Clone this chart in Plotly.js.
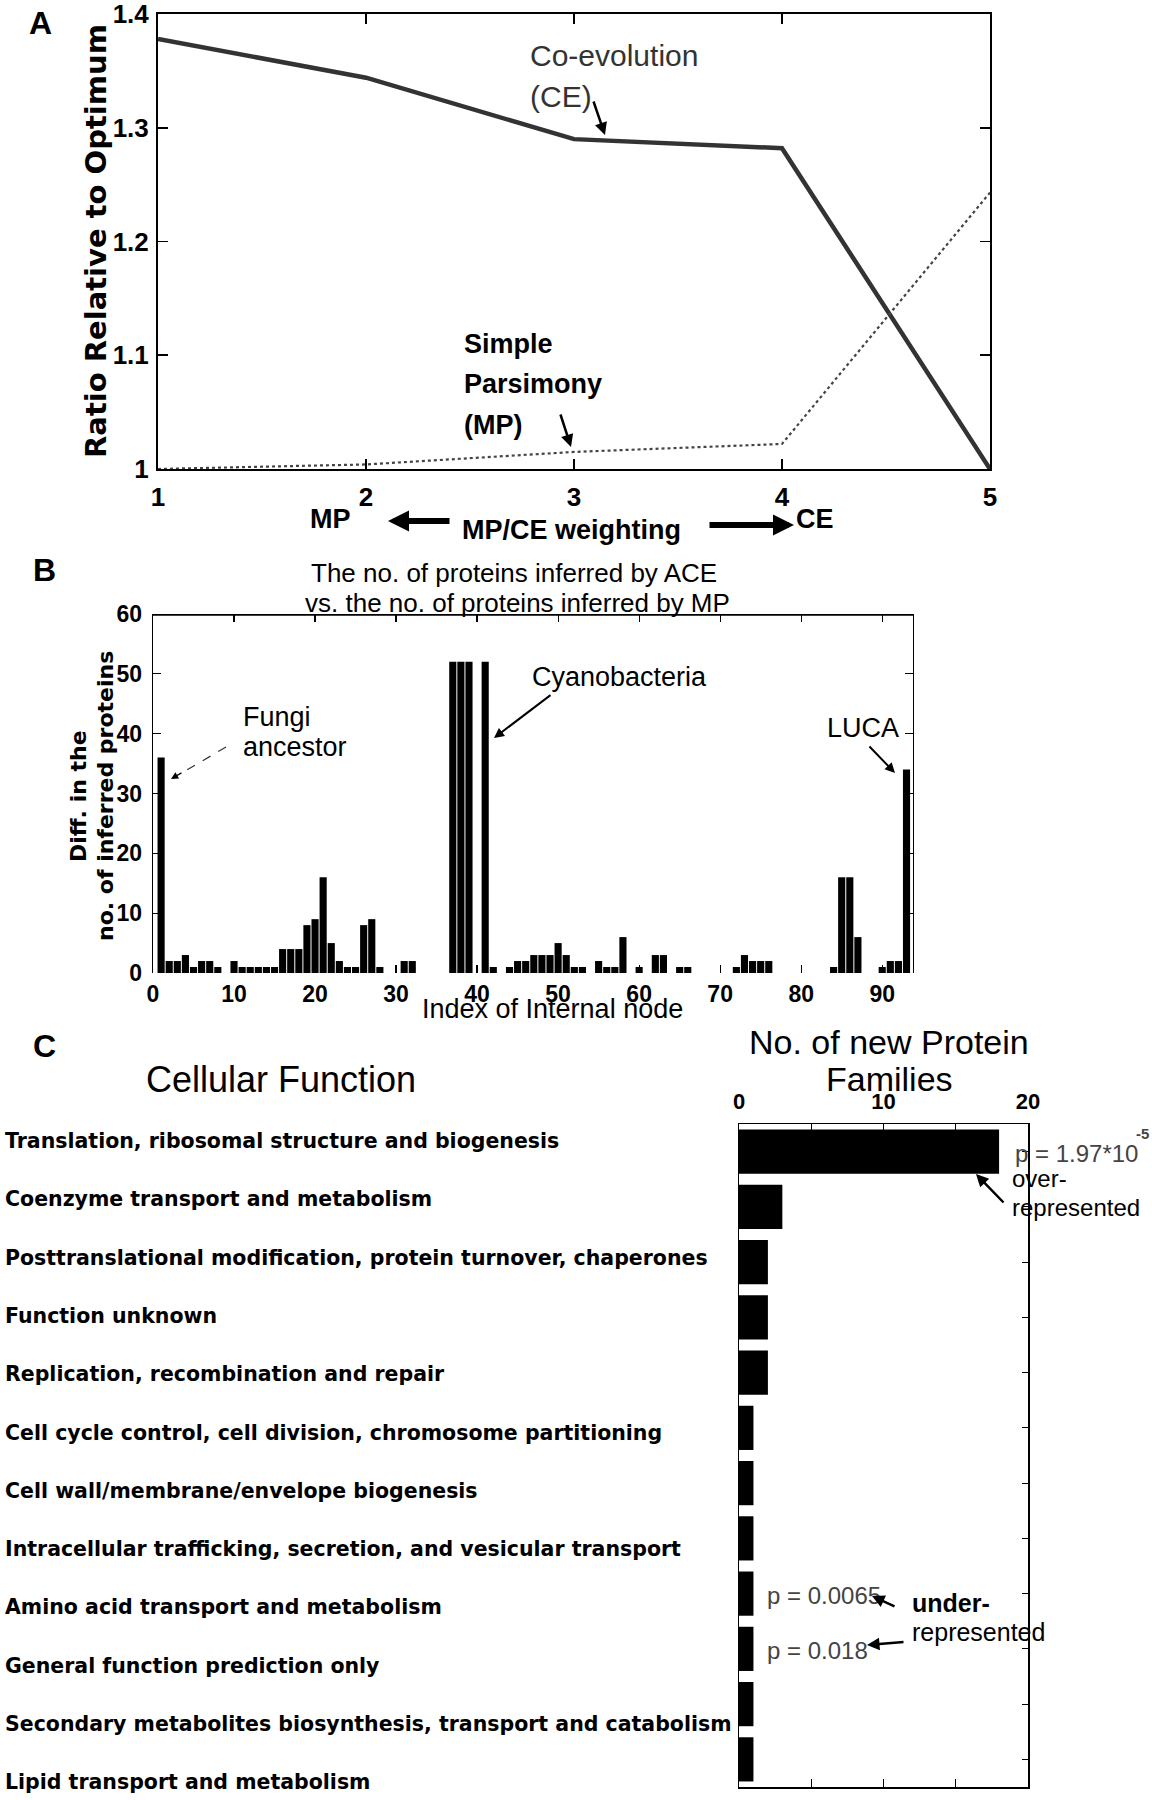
<!DOCTYPE html>
<html>
<head>
<meta charset="utf-8">
<script src="https://cdn.plot.ly/plotly-3.0.1.min.js"></script>
<style>html,body{margin:0;padding:0;background:#fff;}#chart{width:1152px;height:1800px;}</style>
</head>
<body>
<div id="chart"></div>
<script>
// ---------- Panel A data ----------
const weightingSteps = [1, 2, 3, 4, 5];
const ceRatio = [1.378, 1.344, 1.290, 1.282, 1.000];
const mpRatio = [1.000, 1.004, 1.015, 1.022, 1.243];
const ratioTicks = [1, 1.1, 1.2, 1.3, 1.4];
const ratioTickText = ['1', '1.1', '1.2', '1.3', '1.4'];

// ---------- Panel B data ----------
const nodeIndex = [1, 2, 3, 4, 5, 6, 7, 8, 10, 11, 12, 13, 14, 15, 16, 17, 18, 19, 20, 21, 22, 23, 24, 25, 26, 27, 28,
  31, 32, 37, 38, 39, 41, 42, 44, 45, 46, 47, 48, 49, 50, 51, 52, 53, 55, 56, 57, 58, 60, 62, 63, 65, 66,
  72, 73, 74, 75, 76, 84, 85, 86, 87, 90, 91, 92, 93];
const proteinDiff = [36, 2, 2, 3, 1, 2, 2, 1, 2, 1, 1, 1, 1, 1, 4, 4, 4, 8, 9, 16, 5, 2, 1, 1, 8, 9, 1,
  2, 2, 52, 52, 52, 52, 1, 1, 2, 2, 3, 3, 3, 5, 3, 1, 1, 2, 1, 1, 6, 1, 3, 3, 1, 1,
  1, 3, 2, 2, 2, 1, 16, 16, 6, 1, 2, 2, 34];
const nodeTicks = [0, 10, 20, 30, 40, 50, 60, 70, 80, 90];
const diffTicks = [0, 10, 20, 30, 40, 50, 60];

// ---------- Panel C data ----------
const cellularFunctions = [
  'Translation, ribosomal structure and biogenesis',
  'Coenzyme transport and metabolism',
  'Posttranslational modification, protein turnover, chaperones',
  'Function unknown',
  'Replication, recombination and repair',
  'Cell cycle control, cell division, chromosome partitioning',
  'Cell wall/membrane/envelope biogenesis',
  'Intracellular trafficking, secretion, and vesicular transport',
  'Amino acid transport and metabolism',
  'General function prediction only',
  'Secondary metabolites biosynthesis, transport and catabolism',
  'Lipid transport and metabolism'
];
const newFamilies = [18, 3, 2, 2, 2, 1, 1, 1, 1, 1, 1, 1];
const familyTicks = [0, 5, 10, 15, 20];
const familyTickText = ['0', '', '10', '', '20'];

// ---------- helpers ----------
const W = 1152, H = 1800;
const SANS = '"Liberation Sans", Arial, sans-serif';
const WIDE = '"DejaVu Sans", Verdana, sans-serif';
const f = (family, size, weight, color) => ({family, size, weight: weight || 400, color: color || '#000'});

function label(text, x, y, font, extra) {
  return Object.assign({x: x / W, y: 1 - y / H, xref: 'paper', yref: 'paper', text: text,
    showarrow: false, font: font, xanchor: 'center', yanchor: 'middle'}, extra || {});
}
function arrow(hx, hy, tx, ty, w, head, size) {
  return {x: hx / W, y: 1 - hy / H, xref: 'paper', yref: 'paper', ax: tx - hx, ay: ty - hy,
    axref: 'pixel', ayref: 'pixel', text: '', showarrow: true, arrowhead: head, arrowsize: size,
    arrowwidth: w, arrowcolor: '#000'};
}

const traces = [
  {x: weightingSteps, y: ceRatio, type: 'scatter', mode: 'lines', xaxis: 'x', yaxis: 'y',
   line: {color: '#333', width: 4.5}, hoverinfo: 'skip'},
  {x: weightingSteps, y: mpRatio, type: 'scatter', mode: 'lines', xaxis: 'x', yaxis: 'y',
   line: {color: '#444', width: 2.2, dash: 'dot'}, hoverinfo: 'skip'},
  {x: nodeIndex, y: proteinDiff, type: 'bar', xaxis: 'x2', yaxis: 'y2', width: 0.88,
   marker: {color: '#000', line: {width: 0}}, hoverinfo: 'skip'},
  {x: newFamilies, y: cellularFunctions, type: 'bar', orientation: 'h', xaxis: 'x3', yaxis: 'y3', width: 0.8,
   marker: {color: '#000', line: {width: 0}}, hoverinfo: 'skip'}
];

const axisBase = {showgrid: false, zeroline: false, ticks: 'inside', tickcolor: '#000', linecolor: '#000',
  fixedrange: true, ticklabeloverflow: 'allow'};

const annotations = [
  // Panel letters
  label('A', 40, 23, f(SANS, 32, 700)),
  label('B', 44, 570, f(SANS, 32, 700)),
  label('C', 44, 1046, f(SANS, 32, 700)),
  // Panel A
  label('Ratio Relative to Optimum', 96, 241, f(WIDE, 29, 700), {textangle: -90}),
  label('Co-evolution', 528, 55, f(SANS, 30, 400, '#333'), {xanchor: 'left'}),
  label('(CE)', 528, 96, f(SANS, 30, 400, '#333'), {xanchor: 'left'}),
  arrow(605, 135, 593, 100, 2.5, 2, 1),
  label('Simple', 462, 344, f(SANS, 27, 700), {xanchor: 'left'}),
  label('Parsimony', 462, 384, f(SANS, 27, 700), {xanchor: 'left'}),
  label('(MP)', 462, 425, f(SANS, 27, 700), {xanchor: 'left'}),
  arrow(571, 447, 560, 413, 2.5, 2, 1),
  label('MP', 330, 519, f(SANS, 27, 700)),
  label('MP/CE weighting', 571, 530, f(SANS, 27, 700)),
  label('CE', 815, 519, f(SANS, 27, 700)),
  arrow(388, 521, 451, 521, 6, 2, 0.7),
  arrow(794, 525, 708, 525, 6, 2, 0.7),
  // Panel B
  label('The no. of proteins inferred by ACE', 514, 573, f(SANS, 26)),
  label('vs. the no. of proteins inferred by MP', 517, 603, f(SANS, 26)),
  label('Diff. in the', 78, 796, f(WIDE, 22, 700), {textangle: -90}),
  label('no. of inferred proteins', 105, 796, f(WIDE, 22, 700), {textangle: -90}),
  label('Index of Internal node', 552, 1009, f(SANS, 27)),
  label('Fungi', 241, 717, f(SANS, 27), {xanchor: 'left'}),
  label('ancestor', 241, 747, f(SANS, 27), {xanchor: 'left'}),
  arrow(171, 779, 183, 772, 1.2, 2, 1.2),
  label('Cyanobacteria', 619, 677, f(SANS, 27)),
  arrow(494, 738, 552, 694, 2, 2, 1),
  label('LUCA', 863, 728, f(SANS, 27)),
  arrow(895, 773, 868, 745, 2, 2, 1),
  // Panel C
  label('Cellular Function', 281, 1079, f(SANS, 36)),
  label('No. of new Protein', 889, 1042, f(SANS, 34)),
  label('Families', 889, 1079, f(SANS, 34)),
  label('p = 1.97*10', 1013, 1153, f(SANS, 24, 400, '#444'), {xanchor: 'left'}),
  label('-5', 1151, 1133, f(SANS, 15, 700, '#444'), {xanchor: 'right'}),
  label('over-', 1010, 1178, f(SANS, 24), {xanchor: 'left'}),
  label('represented', 1010, 1207, f(SANS, 24), {xanchor: 'left'}),
  arrow(976, 1174, 1005, 1204, 2.5, 2, 1),
  label('p = 0.0065', 765, 1595, f(SANS, 24, 400, '#444'), {xanchor: 'left'}),
  arrow(872, 1596, 896, 1607, 2.5, 2, 1),
  label('under-', 910, 1603, f(SANS, 25, 700), {xanchor: 'left'}),
  label('represented', 910, 1632, f(SANS, 25), {xanchor: 'left'}),
  label('p = 0.018', 765, 1650, f(SANS, 24, 400, '#444'), {xanchor: 'left'}),
  arrow(867, 1645, 905, 1642, 2.5, 2, 1)
];
cellularFunctions.forEach((name, i) => {
  annotations.push(label(name, 3, 1141 + 58.3 * i, f(WIDE, 20.5, 700), {xanchor: 'left'}));
});

const layout = {
  width: W, height: H, autosize: false,
  margin: {l: 0, r: 0, t: 0, b: 0, pad: 0},
  paper_bgcolor: '#fff', plot_bgcolor: '#fff',
  showlegend: false,
  xaxis: Object.assign({}, axisBase, {domain: [158 / W, 990 / W], anchor: 'y', range: [0.9999, 5.0001],
    tickvals: weightingSteps, ticklen: 10, tickwidth: 1.5, showline: true, linewidth: 2, mirror: 'ticks',
    tickfont: f(SANS, 26, 700), ticklabelstandoff: 4}),
  yaxis: Object.assign({}, axisBase, {domain: [1 - 469 / H, 1 - 14 / H], anchor: 'x', range: [0.99999, 1.40001],
    tickvals: ratioTicks, ticktext: ratioTickText, ticklen: 10, tickwidth: 1.5, showline: true, linewidth: 2,
    mirror: 'ticks', tickfont: f(SANS, 26, 700), ticklabelstandoff: 2}),
  xaxis2: Object.assign({}, axisBase, {domain: [153 / W, 913 / W], anchor: 'y2', range: [0, 93.8],
    tickvals: nodeTicks, ticklen: 8, tickwidth: 1.2, showline: true, linecolor: 'rgba(0,0,0,0)', mirror: 'ticks',
    layer: 'below traces', tickfont: f(SANS, 23, 700), ticklabelstandoff: 0}),
  yaxis2: Object.assign({}, axisBase, {domain: [1 - 973 / H, 1 - 614 / H], anchor: 'x2', range: [0, 60.001],
    tickvals: diffTicks, ticklen: 8, tickwidth: 1.2, showline: true, linewidth: 1.3, mirror: 'ticks',
    layer: 'below traces', tickfont: f(SANS, 23, 700), ticklabelstandoff: 5}),
  xaxis3: Object.assign({}, axisBase, {domain: [739 / W, 1028 / W], anchor: 'y3', side: 'top', range: [0, 20.001],
    tickvals: familyTicks, ticktext: familyTickText, ticklen: 8, tickwidth: 1.2, showline: true, linewidth: 1.5,
    mirror: 'ticks', tickfont: f(SANS, 22, 700), ticklabelstandoff: 5}),
  yaxis3: Object.assign({}, axisBase, {domain: [1 - 1787 / H, 1 - 1124 / H], anchor: 'x3', type: 'category',
    categoryorder: 'array', categoryarray: cellularFunctions, autorange: 'reversed', showticklabels: false,
    ticklen: 6, tickwidth: 1.2, showline: true, linewidth: 1.5, mirror: 'ticks'}),
  shapes: [
    {type: 'line', xref: 'x2 domain', yref: 'y2', x0: 0, x1: 1, y0: 60, y1: 60, line: {color: '#000', width: 3.5}},
    {type: 'line', xref: 'paper', yref: 'paper', x0: 226 / W, y0: 1 - 747 / H, x1: 180 / W, y1: 1 - 774 / H,
     line: {color: '#333', width: 1.2, dash: 'dash'}}
  ],
  annotations: annotations
};

Plotly.newPlot('chart', traces, layout, {displayModeBar: false, staticPlot: true});
</script>
</body>
</html>
